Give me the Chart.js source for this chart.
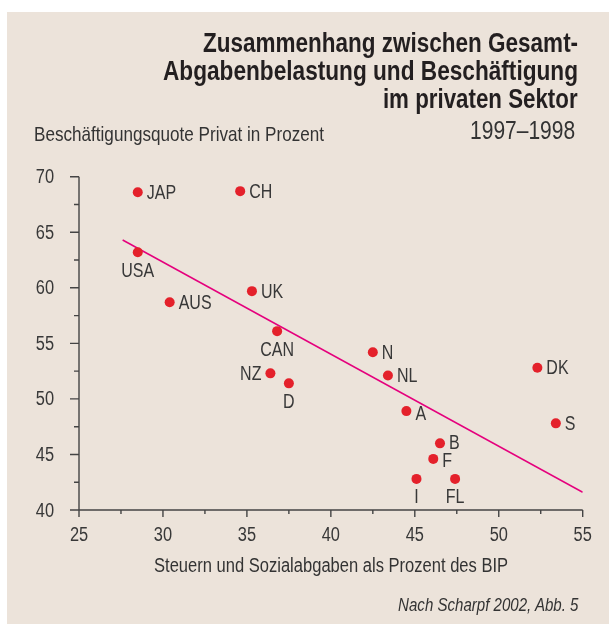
<!DOCTYPE html>
<html lang="de">
<head>
<meta charset="utf-8">
<title>Gesamt-Abgabenbelastung und Beschäftigung</title>
<script src="https://cdn.jsdelivr.net/npm/chart.js@4.4.0/dist/chart.umd.min.js"></script>
<style>
  body { margin: 0; width: 609px; height: 626px; position: relative; overflow: hidden; background: #fff;
         font-family: "Liberation Sans Narrow", "Arial Narrow", "Liberation Sans", sans-serif; color: #333; }
  .panel { position: absolute; left: 7px; top: 12px; width: 602px; height: 612px; background: #ece3da; }
  canvas { position: absolute; left: 0; top: 0; }
  .txt { position: absolute; white-space: nowrap; line-height: 1; }
  .title { font-weight: bold; font-size: 27px; color: #231f20; right: 31px; transform-origin: right center; }
  .left { transform-origin: left center; }
  .right { transform-origin: right center; }
  .center { transform-origin: center center; }
</style>
</head>
<body>
<div class="panel"></div>
<canvas id="chart" width="609" height="626"></canvas>

<div class="txt title" style="top:30px" data-w="375">Zusammenhang zwischen Gesamt-</div>
<div class="txt title" style="top:58px" data-w="415">Abgabenbelastung und Beschäftigung</div>
<div class="txt title" style="top:86px" data-w="195">im privaten Sektor</div>
<div class="txt left" style="left:34px; top:123px; font-size:21px;" data-w="290">Beschäftigungsquote Privat in Prozent</div>
<div class="txt right" style="right:34px; top:117px; font-size:26px;" data-w="105">1997–1998</div>
<div class="txt center" id="xtitle" style="top:555px; font-size:20px;" data-w="354">Steuern und Sozialabgaben als Prozent des BIP</div>
<div class="txt right" style="right:31px; top:596px; font-size:18px; font-style:italic;" data-w="180">Nach Scharpf 2002, Abb. 5</div>

<script>
// data
const countries  = ['JAP', 'CH', 'USA', 'AUS', 'UK', 'CAN', 'NZ', 'D', 'N', 'NL', 'A', 'DK', 'S', 'B', 'F', 'I', 'FL'];
const taxShare   = [28.5, 34.6, 28.5, 30.4, 35.3, 36.8, 36.4, 37.5, 42.5, 43.4, 44.5, 52.3, 53.4, 46.5, 46.1, 45.1, 47.4];
const employment = [68.6, 68.7, 63.2, 58.7, 59.7, 56.1, 52.3, 51.4, 54.2, 52.1, 48.9, 52.8, 47.8, 46.0, 44.6, 42.8, 42.8];

// regression line end points
const trendX = [27.6, 55];
const trendY = [64.3, 41.6];

const xTickLabels = [25, 30, 35, 40, 45, 50, 55];
const yTickLabels = [40, 45, 50, 55, 60, 65, 70];

// where each label sits next to its dot
const labelSide = { USA: 'below', CAN: 'below', D: 'below', I: 'below', FL: 'below', NZ: 'left' };
const labelNudge = { A: 3, F: 2, B: -1 };

const font = '"Liberation Sans Narrow", "Arial Narrow", "Liberation Sans", sans-serif';
const textColor = '#383838';
const axisColor = '#444';
const squeeze = 0.82;   // no condensed face installed, so squash the regular one

// put the html texts to their measured width
document.querySelectorAll('[data-w]').forEach(el => {
  const k = el.dataset.w / el.offsetWidth;
  el.style.transform = 'scaleX(' + k + ')';
});
const xt = document.getElementById('xtitle');
xt.style.left = (331 - xt.offsetWidth / 2) + 'px';

function narrowText(ctx, str, x, y, align) {
  ctx.save();
  ctx.translate(x, y);
  ctx.scale(squeeze, 1);
  ctx.textAlign = align;
  ctx.fillText(str, 0, 0);
  ctx.restore();
}

// axis lines, major/minor tick marks and tick labels
const axisMarks = {
  id: 'axisMarks',
  beforeDatasetsDraw(chart) {
    const { ctx, chartArea: a, scales: { x, y } } = chart;
    ctx.save();
    ctx.strokeStyle = axisColor;
    ctx.lineWidth = 1.4;
    ctx.beginPath();
    ctx.moveTo(a.left, a.top);
    ctx.lineTo(a.left, a.bottom);
    ctx.lineTo(a.right, a.bottom);
    y.ticks.forEach(t => {
      const py = y.getPixelForValue(t.value);
      const len = yTickLabels.includes(t.value) ? 9 : 5;
      ctx.moveTo(a.left - len, py);
      ctx.lineTo(a.left, py);
    });
    x.ticks.forEach(t => {
      const px = x.getPixelForValue(t.value);
      const len = xTickLabels.includes(t.value) ? 7 : 4;
      ctx.moveTo(px, a.bottom);
      ctx.lineTo(px, a.bottom + len);
    });
    ctx.stroke();

    ctx.font = '20px ' + font;
    ctx.fillStyle = textColor;
    ctx.textBaseline = 'middle';
    yTickLabels.forEach(v => narrowText(ctx, String(v), a.left - 25, y.getPixelForValue(v) + 1, 'right'));
    xTickLabels.forEach(v => narrowText(ctx, String(v), x.getPixelForValue(v), a.bottom + 25, 'center'));
    ctx.restore();
  }
};

// country names next to the dots
const countryLabels = {
  id: 'countryLabels',
  afterDatasetsDraw(chart) {
    const ctx = chart.ctx;
    const meta = chart.getDatasetMeta(0);
    ctx.save();
    ctx.font = '19.5px ' + font;
    ctx.fillStyle = textColor;
    ctx.textBaseline = 'middle';
    meta.data.forEach((pt, i) => {
      const name = countries[i];
      const side = labelSide[name] || 'right';
      const dy = labelNudge[name] || 0;
      if (side === 'below') {
        narrowText(ctx, name, pt.x, pt.y + 19, 'center');
      } else if (side === 'left') {
        narrowText(ctx, name, pt.x - 9, pt.y + dy + 1, 'right');
      } else {
        narrowText(ctx, name, pt.x + 9, pt.y + dy + 1, 'left');
      }
    });
    ctx.restore();
  }
};

new Chart(document.getElementById('chart'), {
  type: 'scatter',
  data: {
    datasets: [
      {
        label: 'Länder',
        data: countries.map((c, i) => ({ x: taxShare[i], y: employment[i] })),
        backgroundColor: '#e4212b',
        borderWidth: 0,
        pointRadius: 5,
        pointHoverRadius: 5
      },
      {
        type: 'line',
        label: 'Trend',
        data: trendX.map((v, i) => ({ x: v, y: trendY[i] })),
        borderColor: '#e5007d',
        borderWidth: 1.5,
        pointRadius: 0,
        fill: false
      }
    ]
  },
  options: {
    responsive: false,
    animation: false,
    devicePixelRatio: 1,
    layout: { padding: { top: 176.7, right: 26.3, bottom: 0, left: 0 } },
    plugins: { legend: { display: false }, tooltip: { enabled: false } },
    scales: {
      x: {
        type: 'linear', min: 25, max: 55,
        grid: { display: false, drawTicks: false },
        border: { display: false },
        ticks: { stepSize: 2.5, autoSkip: false, display: false },
        afterFit: s => { s.height = 116; }
      },
      y: {
        type: 'linear', min: 40, max: 70,
        grid: { display: false, drawTicks: false },
        border: { display: false },
        ticks: { stepSize: 2.5, autoSkip: false, display: false },
        afterFit: s => { s.width = 79; }
      }
    }
  },
  plugins: [axisMarks, countryLabels]
});
</script>
</body>
</html>
